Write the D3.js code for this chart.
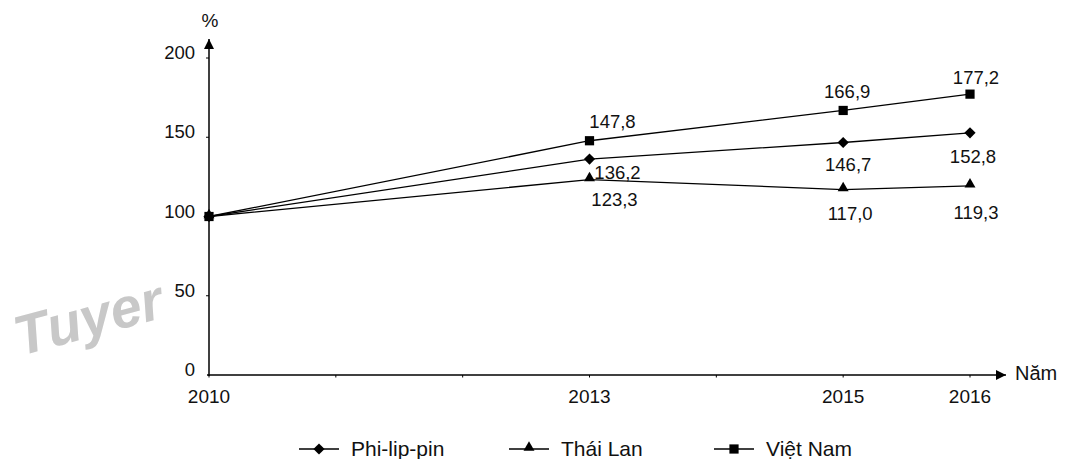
<!DOCTYPE html>
<html>
<head>
<meta charset="utf-8">
<script src="https://cdn.jsdelivr.net/npm/d3@7"></script>
<style>
html,body{margin:0;padding:0;background:#fff;}
svg text{font-family:"Liberation Sans",Arial,sans-serif;}
</style>
</head>
<body>
<svg id="chart" width="1066" height="459"></svg>
<script>
const years = [2010, 2013, 2015, 2016];
const tickYears = [2010, 2011, 2012, 2013, 2014, 2015, 2016];
const yTicks = [0, 50, 100, 150, 200];
const xLabels = [2010, 2013, 2015, 2016];
const philippines = [100, 136.2, 146.7, 152.8];
const thailand = [100, 123.3, 117.0, 119.3];
const vietnam = [100, 147.8, 166.9, 177.2];
const seriesNames = ["Phi-lip-pin", "Thái Lan", "Việt Nam"];

const svg = d3.select("#chart");
const x = d3.scaleLinear().domain([2010, 2016]).range([209, 970]);
const y = d3.scaleLinear().domain([0, 200]).range([375, 58]);
const fmt = v => v.toFixed(1).replace(".", ",");

// watermark
svg.append("text").attr("x", 20).attr("y", 356)
  .attr("transform", "rotate(-15,20,356)")
  .attr("font-size", 56).attr("font-weight", "bold").attr("font-style", "italic")
  .attr("fill", "#c8c8c8").text("Tuyer");

// arrow marker
svg.append("defs").append("marker").attr("id", "arr")
  .attr("viewBox", "0 0 10 10").attr("refX", 10).attr("refY", 5)
  .attr("markerWidth", 11).attr("markerHeight", 10).attr("markerUnits", "userSpaceOnUse")
  .attr("orient", "auto")
  .append("path").attr("d", "M0,0 L10,5 L0,10 Z").attr("fill", "#000");

// axis lines
svg.append("line").attr("x1", x(2010)).attr("x2", x(2010)).attr("y1", y(0) + 1).attr("y2", 39)
  .attr("stroke", "#000").attr("stroke-width", 1.5).attr("marker-end", "url(#arr)");
svg.append("line").attr("x1", x(2010) - 2).attr("x2", 1006).attr("y1", y(0)).attr("y2", y(0))
  .attr("stroke", "#000").attr("stroke-width", 1.5).attr("marker-end", "url(#arr)");

// y ticks
yTicks.forEach(t => {
  if (t > 0) svg.append("line").attr("x1", x(2010) - 3).attr("x2", x(2010)).attr("y1", y(t)).attr("y2", y(t)).attr("stroke", "#000");
  svg.append("text").attr("x", 195).attr("y", y(t) + 1).attr("text-anchor", "end")
    .attr("font-size", 18.5).attr("fill", "#111").text(t);
});
// x ticks
tickYears.forEach(t => {
  svg.append("line").attr("x1", x(t)).attr("x2", x(t)).attr("y1", y(0)).attr("y2", y(0) + 2.5).attr("stroke", "#000");
});
xLabels.forEach(t => {
  svg.append("text").attr("x", x(t)).attr("y", 403).attr("text-anchor", "middle")
    .attr("font-size", 19).attr("fill", "#111").text(t);
});
svg.append("text").attr("x", 210).attr("y", 27).attr("text-anchor", "middle").attr("font-size", 19).attr("fill", "#111").text("%");
svg.append("text").attr("x", 1015).attr("y", 380).attr("font-size", 20).attr("fill", "#111").text("Năm");

const line = d3.line().x((d, i) => x(years[i])).y(d => y(d));
const data = [philippines, thailand, vietnam];
const symbols = [d3.symbolDiamond2, d3.symbolTriangle, d3.symbolSquare];
const symSizes = [80, 52, 85];
const symDy = [0, -1.5, 0];

data.forEach((s, k) => {
  svg.append("path").datum(s).attr("d", line).attr("fill", "none").attr("stroke", "#000").attr("stroke-width", 1.3);
  s.forEach((v, i) => {
    svg.append("path").attr("d", d3.symbol().type(symbols[k]).size(symSizes[k]))
      .attr("transform", `translate(${x(years[i])},${y(v) + symDy[k]})`).attr("fill", "#000");
  });
});

// value labels: offsets [dx, dy] per series and point
const labelOffsets = [
  [[0,0],[28,19.5],[5,28.5],[3,30]],
  [[0,0],[25,26],[7,30],[6,33]],
  [[0,0],[23,-12.5],[4,-12],[6,-10]]
];
data.forEach((s, k) => {
  s.forEach((v, i) => {
    if (i === 0) return;
    const o = labelOffsets[k][i];
    svg.append("text").attr("x", x(years[i]) + o[0]).attr("y", y(v) + o[1])
      .attr("text-anchor", "middle").attr("font-size", 18.5).attr("fill", "#111").text(fmt(v));
  });
});

// legend
const legX = [299, 509, 714];
seriesNames.forEach((n, k) => {
  const g = svg.append("g").attr("transform", `translate(${legX[k]},449)`);
  g.append("line").attr("x1", 0).attr("x2", 40).attr("y1", 0).attr("y2", 0).attr("stroke", "#000").attr("stroke-width", 1.3);
  g.append("path").attr("d", d3.symbol().type(symbols[k]).size(symSizes[k]))
    .attr("transform", `translate(20,${symDy[k]})`).attr("fill", "#000");
  g.append("text").attr("x", 52).attr("y", 7).attr("font-size", 21).attr("fill", "#111").text(n);
});
</script>
</body>
</html>
